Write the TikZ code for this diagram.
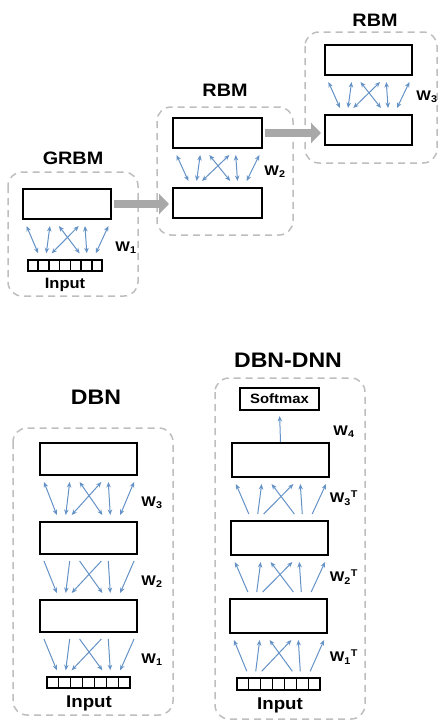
\documentclass[tikz,border=0pt]{standalone}
\usepackage{fontspec}
\setmainfont{Liberation Sans}[FakeStretch=1.1]
\usetikzlibrary{arrows.meta,calc}
\definecolor{linkblue}{RGB}{100,146,198}
\definecolor{panelgray}{RGB}{190,190,190}
\definecolor{flowgray}{RGB}{168,168,168}
\begin{document}
\begin{tikzpicture}[x=1pt,y=-1pt,
    panel/.style={draw=panelgray,line width=1.5pt,dash pattern=on 7pt off 5pt,rounded corners=14pt},
    layer/.style={draw,line width=2pt,inner sep=0pt,minimum height=30pt},
    inbox/.style={draw,line width=1.4pt,inner sep=0pt,minimum height=11pt},
    title/.style={font=\bfseries\fontsize{18}{20}\selectfont},
    bigtitle/.style={font=\bfseries\fontsize{21}{24}\selectfont},
    wlabel/.style={font=\bfseries\fontsize{14}{16}\selectfont,inner sep=0pt},
    inlabel/.style={font=\bfseries\fontsize{15}{17}\selectfont,inner sep=0pt},
    wlink/.style={linkblue,line width=1pt,>={Stealth[length=5.5pt,width=4.5pt]}},
    flow/.style={flowgray,line width=8pt,-{Triangle[length=10pt,width=20pt]},shorten <=2pt,shorten >=3pt}]
  \useasboundingbox (0,0) rectangle (440,723);

  % GRBM
  \draw[panel] (8,172) rectangle (138,296);
  \node[title] (grbmt) at (73,158) {GRBM};
  \node[layer,minimum width=88pt] (g1) at (67,204) {};
  \node[inbox,minimum width=74pt] (gin) at (65,265.5) {};
  \node[inlabel] (ginl) at (65,285) {Input};
  \node[wlabel] (gw) at (126,248) {W\textsubscript{1}};

  % RBM 2
  \draw[panel] (157,107) rectangle (293,235);
  \node[title] (rbmt2) at (225,90) {RBM};
  \node[layer,minimum width=89pt] (r2a) at (217.5,133) {};
  \node[layer,minimum width=89pt] (r2b) at (217.5,203) {};
  \node[wlabel] (rw) at (275,172) {W\textsubscript{2}};

  % RBM 3
  \draw[panel] (305,32) rectangle (437,163);
  \node[title] (rbmt3) at (375,20) {RBM};
  \node[layer,minimum width=87pt] (r3a) at (368.5,60) {};
  \node[layer,minimum width=87pt] (r3b) at (368.5,130) {};
  \node[wlabel] (sw) at (427,97) {W\textsubscript{3}};

  \draw[flow] (g1.east) -- (g1.east -| r2b.west);
  \draw[flow] (r2a.east) -- (r2a.east -| r3b.west);

  % DBN
  \draw[panel] (13,428) rectangle (173,715);
  \node[bigtitle] (dbnt) at (96,397) {DBN};
  \node[layer,minimum width=97pt,minimum height=32pt] (d3) at (88.5,459) {};
  \node[layer,minimum width=97pt,minimum height=32pt] (d2) at (88.5,538) {};
  \node[layer,minimum width=97pt,minimum height=32pt] (d1) at (88.5,616) {};
  \node[inbox,minimum width=83pt] (din) at (88.5,682.5) {};
  \node[inlabel,font=\bfseries\fontsize{17}{19}\selectfont] (dinl) at (89,703) {Input};
  \node[wlabel] (dw3) at (152,503) {W\textsubscript{3}};
  \node[wlabel] (dw2) at (152,582) {W\textsubscript{2}};
  \node[wlabel] (dw1) at (152,660) {W\textsubscript{1}};

  % DBN-DNN
  \draw[panel] (215,378) rectangle (365,719);
  \node[bigtitle] (dnnt) at (288,360) {DBN-DNN};
  \node[draw,line width=2pt,minimum width=79pt,minimum height=22pt,inner sep=0pt,
        font=\bfseries\fontsize{13.5}{15}\selectfont] (soft) at (279.5,399) {Softmax};
  \node[layer,minimum width=97pt,minimum height=34pt] (n3) at (280.5,460) {};
  \node[layer,minimum width=97pt,minimum height=34pt] (n2) at (279.5,538) {};
  \node[layer,minimum width=97pt,minimum height=34pt] (n1) at (278.5,616) {};
  \node[inbox,minimum width=83pt,minimum height=12pt] (nin) at (278.5,684) {};
  \node[inlabel,font=\bfseries\fontsize{17}{19}\selectfont] (ninl) at (280,705) {Input};
  \node[wlabel] (nw4) at (344,432) {W\textsubscript{4}};
  \node[wlabel] (nw3) at (344,498) {W\textsubscript{3}\textsuperscript{T}};
  \node[wlabel] (nw2) at (344,577) {W\textsubscript{2}\textsuperscript{T}};
  \node[wlabel] (nw1) at (344,657) {W\textsubscript{1}\textsuperscript{T}};
  \draw[wlink,->,shorten >=5pt] (n3.north) -- (soft.south);

  % input cells
  \foreach \inp in {gin,din,nin}
    \foreach \i in {1,...,6}
      \draw[line width=1.4pt] ($(\inp.north west)!\i/7!(\inp.north east)$) -- ($(\inp.south west)!\i/7!(\inp.south east)$);

  % weights between layers
  \foreach \up/\dn/\dir in {g1/gin/<->, r2a/r2b/<->, r3a/r3b/<->, d3/d2/<->, d2/d1/->, d1/din/->, n3/n2/<-, n2/n1/<-, n1/nin/<-}
    \foreach \a/\b in {0.05/0.18,0.31/0.27,0.41/0.64,0.63/0.33,0.70/0.72,0.96/0.82}{
      \path (\up.south west) -- (\up.south east) coordinate[pos=\b] (bx);
      \draw[wlink,\dir] ($(\up.south west)!\a!(\up.south east)+(0,6)$) -- ($(bx |- \dn.north)+(0,-6)$);
    }
\end{tikzpicture}
\end{document}
